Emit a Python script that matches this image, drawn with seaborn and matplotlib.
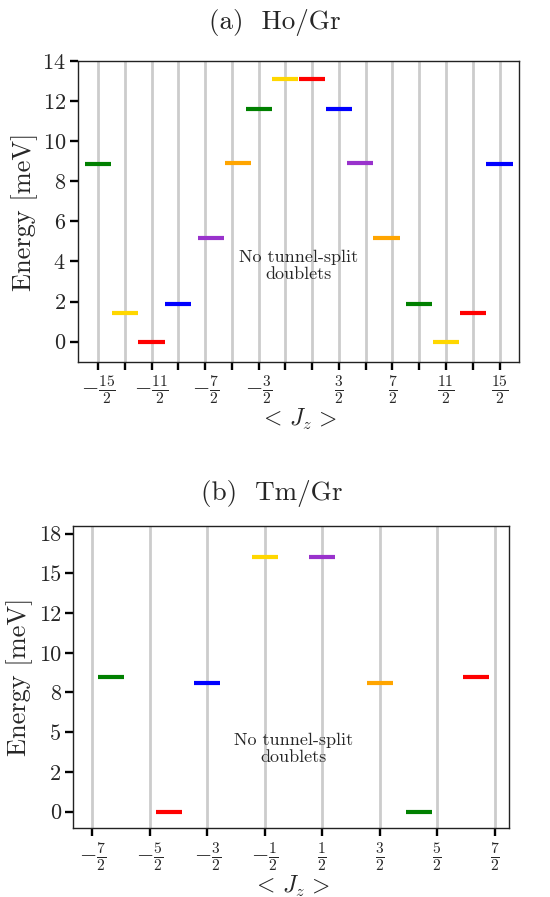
import numpy as np
import pandas as pd
import matplotlib
matplotlib.use("Agg")
import matplotlib.pyplot as plt
import seaborn as sns
from matplotlib.ticker import FormatStrFormatter

# ---------------- data ----------------
ho_jz = [-7.5, -6.5, -5.5, -4.5, -3.27, -2.27, -1.5, -0.5,
         0.5, 1.5, 2.28, 3.28, 4.5, 5.5, 6.5, 7.5]
ho_energy = [8.85, 1.43, 0.0, 1.9, 5.16, 8.93, 11.62, 13.1,
             13.1, 11.62, 8.93, 5.16, 1.9, 0.0, 1.43, 8.85]
ho_colors = ["green", "gold", "red", "blue", "darkorchid", "orange", "green", "gold",
             "red", "blue", "darkorchid", "orange", "green", "gold", "red", "blue"]
ho_ticks = [-7.5, -6.5, -5.5, -4.5, -3.5, -2.5, -1.5, -0.5,
            0.5, 1.5, 2.5, 3.5, 4.5, 5.5, 6.5, 7.5]
ho_ticklabels = [r"$-\frac{15}{2}$", "", r"$-\frac{11}{2}$", "", r"$-\frac{7}{2}$", "",
                 r"$-\frac{3}{2}$", "", "", r"$\frac{3}{2}$", "", r"$\frac{7}{2}$", "",
                 r"$\frac{11}{2}$", "", r"$\frac{15}{2}$"]
ho_yticks = [0, 2, 4, 6, 8, 10, 12, 14]

tm_jz = [-3.18, -2.17, -1.5, -0.5, 0.5, 1.5, 2.18, 3.18]
tm_energy = [8.47, 0.0, 8.11, 16.04, 16.04, 8.11, 0.0, 8.47]
tm_colors = ["green", "red", "blue", "gold", "darkorchid", "orange", "green", "red"]
tm_ticks = [-3.5, -2.5, -1.5, -0.5, 0.5, 1.5, 2.5, 3.5]
tm_ticklabels = [r"$-\frac{7}{2}$", r"$-\frac{5}{2}$", r"$-\frac{3}{2}$", r"$-\frac{1}{2}$",
                 r"$\frac{1}{2}$", r"$\frac{3}{2}$", r"$\frac{5}{2}$", r"$\frac{7}{2}$"]
tm_yticks = [0, 2.5, 5, 7.5, 10, 12.5, 15, 17.5]

# ---------------- style ----------------
sns.set_style("ticks")
plt.rcParams["font.family"] = ["cmr10", "DejaVu Serif"]
plt.rcParams["mathtext.fontset"] = "cm"
plt.rcParams["axes.formatter.use_mathtext"] = True
plt.rcParams["axes.unicode_minus"] = False

fig = plt.figure(figsize=(5.5, 8.97), dpi=100)
ax1 = fig.add_axes([0.1413, 0.5968, 0.8029, 0.3352])
ax2 = fig.add_axes([0.1322, 0.0766, 0.7933, 0.3373])


def draw(ax, jz, en, cols, ticks, ticklabels, yticks, ylim, xlim, title, tx, ty):
    df = pd.DataFrame({"jz": jz, "E": en, "c": [f"{i}" for i in range(len(jz))]})
    pal = {f"{i}": c for i, c in enumerate(cols)}
    ax.set_axisbelow(True)
    sns.scatterplot(data=df, x="jz", y="E", hue="c", palette=pal, marker="_",
                    s=355, linewidth=3.0, legend=False, ax=ax, zorder=3)
    ax.set_xticks(ticks)
    ax.set_xticklabels(ticklabels)
    ax.set_yticks(yticks)
    ax.set_xlim(*xlim)
    ax.set_ylim(*ylim)
    ax.grid(axis="x", color="#cccccc", linewidth=2.0)
    ax.tick_params(axis="both", direction="out", length=5.5, width=1.7,
                   labelsize=16, color="black", pad=3)
    for sp in ax.spines.values():
        sp.set_visible(True)
        sp.set_linewidth(1.0)
        sp.set_color("#222222")
    ax.set_ylabel("Energy [meV]", fontsize=19)
    ax.set_xlabel(r"$<\,J_z\,>$", fontsize=17)
    ax.yaxis.set_label_coords(-0.091, 0.5)
    ax.xaxis.set_label_coords(0.5, -0.150)
    ax.text(0.0, ty, "No tunnel-split\ndoublets", ha="center", va="center",
            fontsize=13, linespacing=1.1)
    fig.text(tx, title[1], title[0], ha="center", va="center", fontsize=19.5)


draw(ax1, ho_jz, ho_energy, ho_colors, ho_ticks, ho_ticklabels, ho_yticks,
     (-1.0, 14.0), (-8.26, 8.24), ("(a)  Ho/Gr", 1 - 23 / 897), 0.5, 3.77)
draw(ax2, tm_jz, tm_energy, tm_colors, tm_ticks, tm_ticklabels, tm_yticks,
     (-1.05, 18.0), (-3.84, 3.75), ("(b)  Tm/Gr", 1 - 493 / 897), 0.494, 3.95)
ax2.yaxis.set_major_formatter(FormatStrFormatter("%.0f"))

fig.savefig("out.png", dpi=100)
